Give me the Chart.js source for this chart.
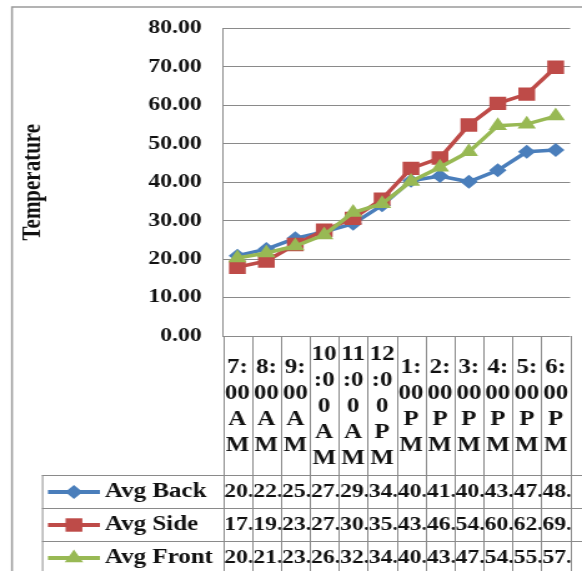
<!DOCTYPE html>
<html>
<head>
<meta charset="utf-8">
<script src="https://cdn.jsdelivr.net/npm/chart.js@4/dist/chart.umd.min.js"></script>
<style>
  html, body { margin: 0; padding: 0; background: #ffffff; }
  #c { display: block; }
</style>
</head>
<body>
<canvas id="c" width="466" height="571" style="width:582px;height:571px"></canvas>
<script>
// Hourly readings, 7 AM to 6 PM
const categories = ['7:00 AM', '8:00 AM', '9:00 AM', '10:00 AM', '11:00 AM', '12:00 PM',
                    '1:00 PM', '2:00 PM', '3:00 PM', '4:00 PM', '5:00 PM', '6:00 PM'];
const avgBack  = [20.9, 22.6, 25.4, 27.1, 29.2, 34.0, 40.4, 41.6, 40.1, 43.1, 47.9, 48.4];
const avgSide  = [17.9, 19.5, 23.8, 27.5, 30.6, 35.6, 43.6, 46.3, 54.9, 60.5, 62.9, 69.9];
const avgFront = [20.3, 21.6, 23.4, 26.3, 32.1, 34.4, 40.2, 43.9, 47.9, 54.7, 55.1, 57.2];
const seriesNames = ['Avg Back', 'Avg Side', 'Avg Front'];
const yTicks = { min: 0, max: 80, step: 10 };
const yTitle = 'Temperature';

const SERIF = "'Liberation Serif', 'Times New Roman', serif";
const GRID = '#8a8a8a';
const INK = '#111111';

const series = [
  { label: seriesNames[0], data: avgBack,  color: '#4a7ebb', style: 'rectRot',  r: 7,   order: 2 },
  { label: seriesNames[1], data: avgSide,  color: '#be4b48', style: 'rect',     r: 9.5, order: 1 },
  { label: seriesNames[2], data: avgFront, color: '#98b954', style: 'triangle', r: 8.5, order: 0 }
];

function drawMarker(ctx, style, x, y, r) {
  ctx.beginPath();
  if (style === 'rectRot') {
    ctx.moveTo(x, y - r); ctx.lineTo(x + r, y); ctx.lineTo(x, y + r); ctx.lineTo(x - r, y);
  } else if (style === 'rect') {
    const s = r * Math.SQRT1_2;
    ctx.rect(x - s, y - s, 2 * s, 2 * s);
  } else {
    let a = 0;
    ctx.moveTo(x + Math.sin(a) * r, y - Math.cos(a) * r);
    a += 2 * Math.PI / 3; ctx.lineTo(x + Math.sin(a) * r, y - Math.cos(a) * r);
    a += 2 * Math.PI / 3; ctx.lineTo(x + Math.sin(a) * r, y - Math.cos(a) * r);
  }
  ctx.closePath();
  ctx.fill();
}

// Break a category label into lines that fit a narrow column, word by word
function wrapLabel(ctx, text, maxW) {
  const lines = [];
  text.split(' ').forEach(word => {
    let cur = '';
    for (const ch of word) {
      if (cur && ctx.measureText(cur + ch).width > maxW) { lines.push(cur); cur = ch; }
      else cur += ch;
    }
    if (cur) lines.push(cur);
  });
  return lines;
}

const BAND_BOTTOM = 475;   // bottom of the category label band / top of data table
const ROW_H = 33;

const tablePlugin = {
  id: 'dataTable',
  afterDraw(chart) {
    const { ctx, chartArea, scales: { x } } = chart;
    const W = chart.width, H = chart.height;
    const n = categories.length;
    const colW = (chartArea.right - chartArea.left) / n;
    const top = chartArea.bottom;
    const legendLeft = 33.6;

    ctx.save();
    ctx.strokeStyle = GRID;
    ctx.lineWidth = 1;

    // column separators through the label band and the table
    for (let i = 0; i <= n; i++) {
      const cx = Math.round(chartArea.left + i * colW) + 0.5;
      ctx.beginPath(); ctx.moveTo(cx, top); ctx.lineTo(cx, H); ctx.stroke();
    }
    // table rows
    for (let r = 0; r < 3; r++) {
      const y = BAND_BOTTOM + r * ROW_H + 0.5;
      ctx.beginPath(); ctx.moveTo(legendLeft, y); ctx.lineTo(W, y); ctx.stroke();
    }
    ctx.beginPath(); ctx.moveTo(legendLeft + 0.5, BAND_BOTTOM); ctx.lineTo(legendLeft + 0.5, H); ctx.stroke();

    // outer frame
    ctx.lineWidth = 1.5;
    ctx.strokeStyle = '#9a9a9a';
    ctx.beginPath(); ctx.moveTo(9.6, H); ctx.lineTo(9.6, 7); ctx.lineTo(W, 7); ctx.stroke();

    // category labels, centred in the band
    ctx.fillStyle = INK;
    ctx.font = 'bold 20px ' + SERIF;
    ctx.textAlign = 'center';
    ctx.textBaseline = 'middle';
    const lh = 26;
    const bandMid = (top + BAND_BOTTOM) / 2 + 1;
    categories.forEach((c, i) => {
      const lines = wrapLabel(ctx, c, colW - 2);
      const cx = x.getPixelForValue(i);
      const y0 = bandMid - (lines.length - 1) * lh / 2;
      lines.forEach((ln, k) => ctx.fillText(ln, cx, y0 + k * lh));
    });

    // data table rows: legend key, name, values
    series.forEach((s, r) => {
      const yMid = BAND_BOTTOM + r * ROW_H + ROW_H / 2 + 0.5;
      ctx.strokeStyle = s.color;
      ctx.fillStyle = s.color;
      ctx.lineWidth = 4;
      ctx.beginPath(); ctx.moveTo(38.4, yMid); ctx.lineTo(80, yMid); ctx.stroke();
      drawMarker(ctx, s.style, 59.2, yMid, s.r);

      ctx.fillStyle = INK;
      ctx.font = 'bold 20px ' + SERIF;
      ctx.textAlign = 'left';
      ctx.fillText(s.label, 84, yMid);

      ctx.font = 'bold 19px ' + SERIF;
      s.data.forEach((v, i) => {
        const left = chartArea.left + i * colW;
        ctx.save();
        ctx.beginPath(); ctx.rect(left + 1, yMid - ROW_H / 2, colW - 1, ROW_H); ctx.clip();
        ctx.fillText(Math.trunc(v) + '.', left + 1, yMid);
        ctx.restore();
      });
    });
    ctx.restore();
  }
};

new Chart(document.getElementById('c'), {
  type: 'line',
  data: {
    labels: categories,
    datasets: series.map(s => ({
      label: s.label,
      data: s.data,
      borderColor: s.color,
      backgroundColor: s.color,
      pointBackgroundColor: s.color,
      pointBorderColor: s.color,
      pointBorderWidth: 0,
      pointStyle: s.style,
      pointRadius: s.r,
      borderWidth: 3.5,
      tension: 0,
      order: s.order
    }))
  },
  options: {
    responsive: false,
    animation: false,
    devicePixelRatio: 1,
    layout: { padding: { left: 0, right: 0, top: 20, bottom: 571 - 336 } },
    plugins: { legend: { display: false }, tooltip: { enabled: false }, title: { display: false } },
    scales: {
      x: { type: 'category', offset: true, display: false },
      y: {
        min: yTicks.min, max: yTicks.max,
        afterFit(scale) { scale.width = 178.5; },
        ticks: {
          stepSize: yTicks.step,
          padding: 17,
          color: INK,
          font: { family: SERIF, size: 19, weight: 'bold' },
          callback: v => Number(v).toFixed(2)
        },
        grid: { color: GRID, lineWidth: 1, drawTicks: false },
        border: { display: true, color: GRID, width: 1 },
        title: {
          display: true, text: yTitle, color: INK,
          font: { family: SERIF, size: 21, weight: 'bold' },
          padding: { top: 14, bottom: 0 }
        }
      }
    }
  },
  plugins: [tablePlugin]
});
</script>
</body>
</html>
